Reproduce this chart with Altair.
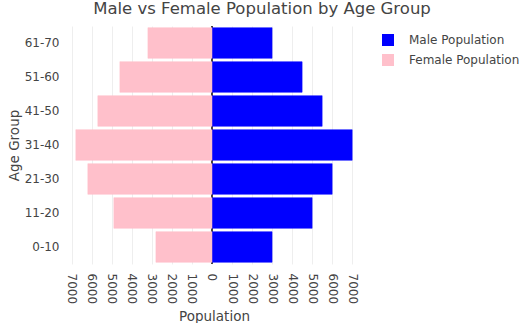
import altair as alt
import pandas as pd

age_groups = ["0-10", "11-20", "21-30", "31-40", "41-50", "51-60", "61-70"]
male = [3000, 5000, 6000, 7000, 5500, 4500, 3000]
female = [2800, 4900, 6200, 6800, 5700, 4600, 3200]
series = ["Male Population", "Female Population"]
colors = ["#0000ff", "#ffc0cb"]
tick_values = [-7000, -6000, -5000, -4000, -3000, -2000, -1000, 0,
               1000, 2000, 3000, 4000, 5000, 6000, 7000]

rows = []
for g, m, f in zip(age_groups, male, female):
    rows.append({"age": g, "series": series[0], "pop": m})
    rows.append({"age": g, "series": series[1], "pop": -f})
df = pd.DataFrame(rows)

FONT = "DejaVu Sans"
TXT = "#444444"

x_scale = alt.Scale(domain=[-7490, 7690], nice=False, zero=False)
y_scale = alt.Scale(domain=age_groups[::-1], paddingInner=0.1, paddingOuter=0.05)
c_scale = alt.Scale(domain=series, range=colors)

bars = alt.Chart(df).mark_bar(strokeWidth=1, strokeOpacity=0.5).encode(
    x=alt.X("pop:Q", scale=x_scale, title="Population",
            axis=alt.Axis(values=tick_values, tickCount=30, labelAngle=90,
                          labelAlign="left", labelBaseline="middle", labelPadding=9,
                          labelOverlap=False, labelBound=False, labelFlush=False,
                          labelExpr="format(abs(datum.value), 'd')",
                          grid=True, gridColor="#eeeeee", domain=False, ticks=False,
                          titlePadding=6)),
    y=alt.Y("age:N", scale=y_scale, title="Age Group",
            axis=alt.Axis(grid=False, domain=False, ticks=False, labelPadding=3,
                          titlePadding=3)),
    color=alt.Color("series:N", scale=c_scale, title=None,
                    legend=alt.Legend(orient="none", legendX=320, legendY=8,
                                      symbolType="square", symbolSize=144,
                                      symbolStrokeWidth=0, labelOffset=15,
                                      rowPadding=8, padding=0)),
    stroke=alt.Stroke("series:N", scale=c_scale, legend=None),
)

zero = alt.Chart(df).mark_rule(color=TXT, strokeWidth=1).encode(
    x=alt.datum(0, scale=x_scale)
)

chart = alt.layer(zero, bars).properties(
    width=304, height=238,
    padding={"left": 62, "top": 26, "right": 166, "bottom": 59},
    autosize=alt.AutoSizeParams(type="none"),
    title=alt.TitleParams("Male vs Female Population by Age Group", fontSize=16.5,
                          font=FONT, color=TXT, fontWeight="normal",
                          anchor="middle", dx=48, offset=8),
).configure_axis(
    labelFont=FONT, titleFont=FONT, labelColor=TXT, titleColor=TXT,
    labelFontSize=12, titleFontSize=13.5, titleFontWeight="normal",
).configure_legend(
    labelFont=FONT, labelColor=TXT, labelFontSize=12,
).configure_view(stroke=None)

chart.save("out.html", embed_options={"renderer": "svg", "actions": False})
